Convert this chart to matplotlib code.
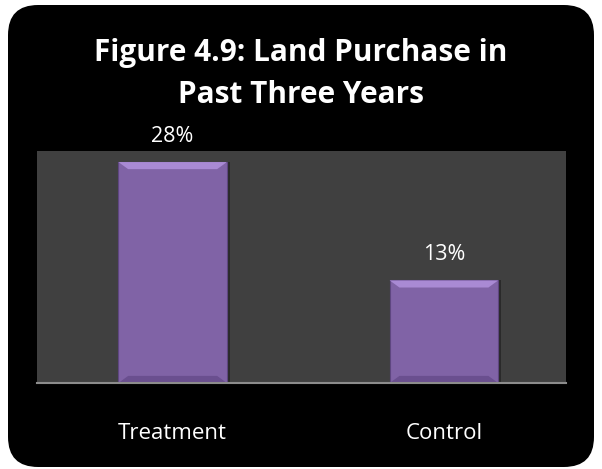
import matplotlib.pyplot as plt
from matplotlib.patches import FancyBboxPatch, Polygon
import numpy as np

categories = ['Treatment', 'Control']
values = [28, 13]
labels = ['28%', '13%']
title = 'Figure 4.9: Land Purchase in\nPast Three Years'

plt.rcParams['font.family'] = ['Open Sans', 'DejaVu Sans']

fig = plt.figure(figsize=(6.02, 4.69), dpi=100)
fig.patch.set_facecolor('white')

# black rounded frame
frame = FancyBboxPatch((8 / 602, 2 / 469), 586 / 602, 462 / 469,
                       boxstyle='round,pad=0,rounding_size=0.05',
                       transform=fig.transFigure, facecolor='black',
                       edgecolor='none', mutation_aspect=602 / 469, zorder=-5)
fig.patches.append(frame)

fig.text(0.5, 0.842, title, ha='center', va='center', color='white',
         fontsize=21.4, fontweight='bold', linespacing=1.53)

ax = fig.add_axes([37 / 602, 86 / 469, 529 / 602, 232 / 469])
ax.set_facecolor('#404040')
x = np.arange(len(categories))

# soft shadow to the right of bars
ax.bar(x + 0.012, values, width=0.4, color='#2a2a2a', zorder=2)
bars = ax.bar(x, values, width=0.4, color='#8063a6', edgecolor='#5e4680',
              linewidth=0.8, zorder=3)

# bevel edges on each bar
for b in bars:
    x0, w, h = b.get_x(), b.get_width(), b.get_height()
    bev = 0.09 * w
    bh = 0.9
    ax.add_patch(Polygon([(x0, h), (x0 + w, h), (x0 + w - bev, h - bh), (x0 + bev, h - bh)],
                         closed=True, facecolor='#a98ad4', edgecolor='none', zorder=4))
    ax.add_patch(Polygon([(x0, 0), (x0 + bev, bh), (x0 + w - bev, bh), (x0 + w, 0)],
                         closed=True, facecolor='#6a4f8f', edgecolor='none', zorder=4))

for xi, v, lab in zip(x, values, labels):
    ax.text(xi, v + 3.3, lab, ha='center', va='center', color='white',
            fontsize=15.5, clip_on=False)

ax.set_xlim(-0.5, 1.45)
ax.set_ylim(0, 29.4)
ax.set_yticks([])
ax.set_xticks(x)
ax.set_xticklabels(categories, color='white', fontsize=16)
ax.tick_params(axis='x', length=0, pad=28.5)
for s in ['top', 'left', 'right']:
    ax.spines[s].set_visible(False)
ax.spines['bottom'].set_color('#8c8c8c')
ax.spines['bottom'].set_linewidth(1.5)
ax.spines['bottom'].set_zorder(5)

fig.savefig('out.png', dpi=100, facecolor='white')
